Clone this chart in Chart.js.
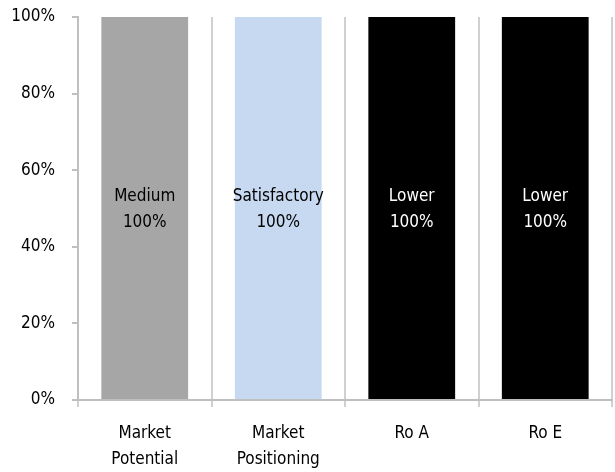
<!DOCTYPE html>
<html>
<head>
<meta charset="utf-8">
<script src="https://cdn.jsdelivr.net/npm/chart.js@4/dist/chart.umd.min.js"></script>
<style>
  html, body { margin: 0; padding: 0; background: #fff; }
  #wrap { width: 615px; height: 472px; }
</style>
</head>
<body>
<div id="wrap"><canvas id="chart" width="615" height="472"></canvas></div>
<script>
// Data
const categories = [['Market', 'Potential'], ['Market', 'Positioning'], 'Ro A', 'Ro E'];
const values = [100, 100, 100, 100];
const ratings = ['Medium', 'Satisfactory', 'Lower', 'Lower'];
const barColors = ['#A6A6A6', '#C6D9F1', '#000000', '#000000'];
const textColors = ['#000000', '#000000', '#ffffff', '#ffffff'];

const FONT = "'Liberation Sans Narrow', 'DejaVu Sans Condensed', 'Arial Narrow', sans-serif";
const FONT_SIZE = 17;

// draws "rating / value%" in the middle of each bar
const barLabels = {
    id: 'barLabels',
    afterDatasetsDraw(chart) {
        const ctx = chart.ctx;
        const meta = chart.getDatasetMeta(0);
        ctx.save();
        ctx.font = FONT_SIZE + 'px ' + FONT;
        ctx.textAlign = 'center';
        ctx.textBaseline = 'middle';
        meta.data.forEach((bar, i) => {
            const mid = (bar.y + bar.base) / 2;
            ctx.fillStyle = textColors[i];
            ctx.fillText(ratings[i], bar.x, mid - 11);
            ctx.fillText(values[i] + '%', bar.x, mid + 15);
        });
        ctx.restore();
    }
};

new Chart(document.getElementById('chart'), {
    type: 'bar',
    data: {
        labels: categories,
        datasets: [{
            data: values,
            backgroundColor: barColors,
            borderWidth: 0,
            categoryPercentage: 0.65,
            barPercentage: 1.0
        }]
    },
    options: {
        responsive: false,
        animation: false,
        layout: { padding: { top: 17, right: 3, left: 0, bottom: 0 } },
        plugins: {
            legend: { display: false },
            tooltip: { enabled: false }
        },
        scales: {
            x: {
                offset: true,
                afterFit: s => { s.height = 72; s.paddingLeft = 0; s.paddingRight = 0; },
                grid: {
                    offset: true,
                    color: '#D0D0D0',
                    lineWidth: 2,
                    tickLength: 7,
                    drawOnChartArea: true
                },
                border: { color: '#BFBFBF', width: 2 },
                ticks: {
                    color: '#000',
                    font: { family: FONT, size: FONT_SIZE, lineHeight: 1.5 },
                    padding: 14,
                    maxRotation: 0
                }
            },
            y: {
                min: 0,
                max: 100,
                afterFit: s => { s.width = 78; s.paddingTop = 0; s.paddingBottom = 0; },
                ticks: {
                    stepSize: 20,
                    color: '#000',
                    font: { family: FONT, size: FONT_SIZE },
                    padding: 17,
                    callback: v => v + '%'
                },
                grid: {
                    drawOnChartArea: false,
                    color: '#BFBFBF',
                    lineWidth: 2,
                    tickLength: 6
                },
                border: { color: '#BFBFBF', width: 2 }
            }
        }
    },
    plugins: [barLabels]
});
</script>
</body>
</html>
